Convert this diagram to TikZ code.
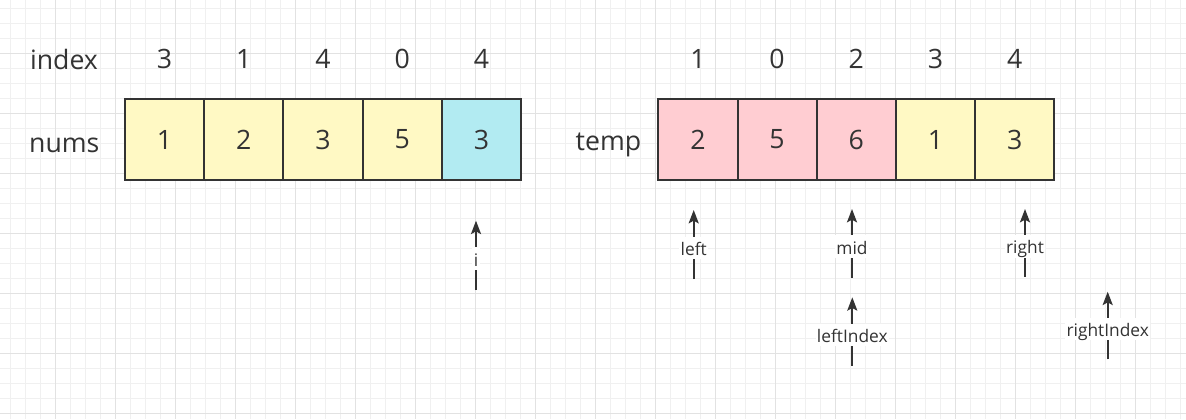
\documentclass[tikz,border=0pt]{standalone}
\usepackage{fontspec}
\setmainfont{Open Sans}
\usetikzlibrary{arrows.meta,positioning}
\definecolor{cellyellow}{HTML}{FFF9C4}
\definecolor{cellcyan}{HTML}{B2EBF2}
\definecolor{cellpink}{HTML}{FFCDD2}
\definecolor{ink}{HTML}{333333}
\definecolor{gridminor}{HTML}{F0F0F0}
\definecolor{gridmajor}{HTML}{E2E2E2}

\begin{document}
\begin{tikzpicture}[x=0.75pt,y=-0.75pt,>={Stealth[length=10pt,width=7.5pt,inset=2pt]},
  cell node/.style={rectangle,draw=ink,line width=1.5pt,fill=cellyellow,text=ink,minimum width=59.4pt,minimum height=60.3pt,inner sep=0pt,outer sep=0pt,font=\fontsize{20}{24}\selectfont},
  index node/.style={text=ink,inner sep=0pt,text depth=0pt,font=\fontsize{20}{24}\selectfont},
  row label/.style={text=ink,inner sep=0pt,anchor=base,font=\fontsize{20}{24}\selectfont},
  pointer/.style={->,draw=ink,line width=1.5pt},
  tag/.style={fill=white,text=ink,inner xsep=1pt,inner ysep=2pt,text height=12pt,text depth=1pt,font=\fontsize{13}{15}\selectfont}]

  % background and grid
  \fill[white] (0,0) rectangle (1186,419);
  \useasboundingbox (0,0) rectangle (1186,419);
  \foreach \gx in {0,...,78}
    \draw[gridminor,line width=0.75pt] (10.7+15*\gx,0) -- (10.7+15*\gx,419);
  \foreach \gy in {0,...,27}
    \draw[gridminor,line width=0.75pt] (0,8.3+15*\gy) -- (1186,8.3+15*\gy);
  \foreach \gx in {0,...,18}
    \draw[gridmajor,line width=0.75pt] (55.7+60*\gx,0) -- (55.7+60*\gx,419);
  \foreach \gy in {0,...,6}
    \draw[gridmajor,line width=0.75pt] (0,53.3+60*\gy) -- (1186,53.3+60*\gy);

  % row labels
  \node[row label] (index) at (64,69) {index};
  \node[row label] (nums) at (64.3,152.7) {nums};
  \node[row label] (temp) at (608.5,150.5) {temp};

  % nums
  \node[cell node] (n1) at (164.6,139.5) {1};
  \node[cell node] (n2) [right=0pt of n1] {2};
  \node[cell node] (n3) [right=0pt of n2] {3};
  \node[cell node] (n4) [right=0pt of n3] {5};
  \node[cell node,fill=cellcyan] (n5) [right=0pt of n4] {3};

  % temp
  \node[cell node,fill=cellpink] (t1) at (697.9,139.5) {2};
  \node[cell node,fill=cellpink] (t2) [right=0pt of t1] {5};
  \node[cell node,fill=cellpink] (t3) [right=0pt of t2] {6};
  \node[cell node] (t4) [right=0pt of t3] {1};
  \node[cell node] (t5) [right=0pt of t4] {3};

  % index row
  \node[index node] (in1) [above=22.7pt of n1] {3};
  \node[index node] (in2) [above=22.7pt of n2] {1};
  \node[index node] (in3) [above=22.7pt of n3] {4};
  \node[index node] (in4) [above=22.7pt of n4] {0};
  \node[index node] (in5) [above=22.7pt of n5] {4};
  \node[index node] (it1) [above=22.7pt of t1] {1};
  \node[index node] (it2) [above=22.7pt of t2] {0};
  \node[index node] (it3) [above=22.7pt of t3] {2};
  \node[index node] (it4) [above=22.7pt of t4] {3};
  \node[index node] (it5) [above=22.7pt of t5] {4};

  % pointers
  \coordinate (i tail) at (476,290);
  \coordinate (i tip) at (476,220.7);
  \coordinate (left tail) at (693.7,279);
  \coordinate (left tip) at (693.7,210);
  \coordinate (mid tail) at (852,277.7);
  \coordinate (mid tip) at (852,209);
  \coordinate (right tail) at (1025,276.7);
  \coordinate (right tip) at (1025,209);
  \coordinate (leftIndex tail) at (852.3,365.7);
  \coordinate (leftIndex tip) at (852.3,297.3);
  \coordinate (rightIndex tail) at (1107.7,359.3);
  \coordinate (rightIndex tip) at (1107.7,291.7);

  \draw[pointer] (i tail) -- node[tag,pos=0.45] (i tag) {i} (i tip);
  \draw[pointer] (left tail) -- node[tag,pos=0.45] (left tag) {left} (left tip);
  \draw[pointer] (mid tail) -- node[tag,pos=0.45] (mid tag) {mid} (mid tip);
  \draw[pointer] (right tail) -- node[tag,pos=0.45] (right tag) {right} (right tip);
  \draw[pointer] (leftIndex tail) -- node[tag,pos=0.45] (leftIndex tag) {leftIndex} (leftIndex tip);
  \draw[pointer] (rightIndex tail) -- node[tag,pos=0.45] (rightIndex tag) {rightIndex} (rightIndex tip);
\end{tikzpicture}
\end{document}
